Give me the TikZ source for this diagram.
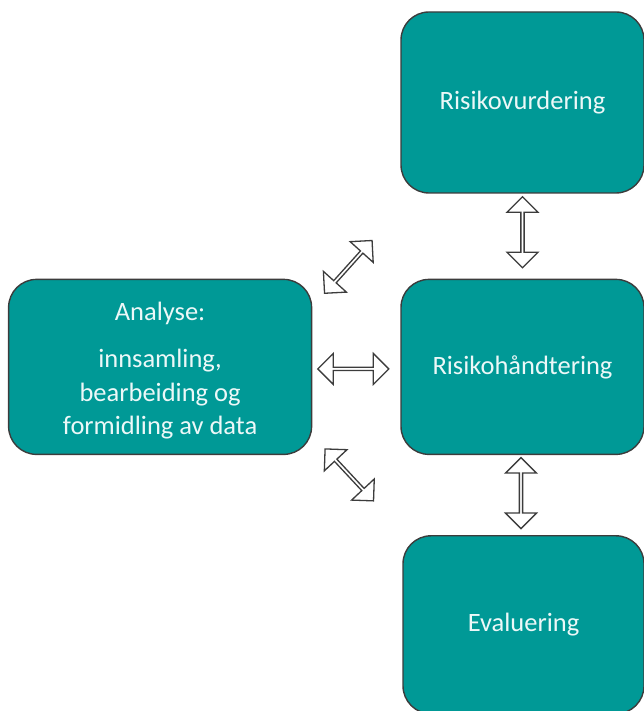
\documentclass[tikz,border=0pt]{standalone}
\usepackage{fontspec}
\setmainfont{Carlito}
\usetikzlibrary{calc,positioning,shapes.arrows}
\definecolor{tealfill}{RGB}{0,153,150}
\definecolor{edgegray}{RGB}{60,60,60}
\definecolor{lighttext}{RGB}{236,248,248}
\tikzset{%
	stage/.style    = {draw=edgegray, line width=1.4pt, fill=tealfill, rounded corners=28pt},
	stagetext/.style= {text=lighttext, align=center, font=\fontsize{26.5}{33.5}\selectfont},
	dblarrow/.style = {draw=edgegray, line width=1.3pt, fill=white, double arrow, minimum height=71pt, minimum width=31pt, double arrow head extend=5.5pt, inner sep=0pt},
}

\begin{document}
\begin{tikzpicture}[x=1pt,y=1pt]
	\useasboundingbox (0,0) rectangle (644,711);
	\node [stage,stagetext,minimum width=243pt,minimum height=181pt] (rv) at (522.5,608.5) {Risikovurdering};
	\node [stage,stagetext,minimum width=243pt,minimum height=175pt] (rh) [below=85pt of rv] {Risikohåndtering};
	\node [stage,stagetext,minimum width=241pt,minimum height=178pt] (ev) [below=80pt of rh,xshift=1pt] {Evaluering};
	\node [stage,minimum width=303pt,minimum height=175pt] (an) [left=88pt of rh] {};
	\node [stagetext] (antext) at ($(an.center)+(0,-4)$) {Analyse:\\[13.5pt] innsamling,\\ bearbeiding og\\ formidling av data};
	
	\node [dblarrow,rotate=90] (up) at ($(rv.south)!0.5!(rh.north)+(0,4)$) {};
	\node [dblarrow,rotate=90] (down) at ($(rh.south)!0.5!(ev.north)+(-2,2)$) {};
	\node [dblarrow] (mid) at ($(an.east)!0.5!(rh.west)+(-3,-2)$) {};
	\node [dblarrow,rotate=48] (diagup) at ($(an.east)!0.5!(rh.west)+(-8,100)$) {};
	\node [dblarrow,rotate=-47] (diagdown) at ($(an.east)!0.5!(rh.west)+(-7,-108)$) {};
\end{tikzpicture}
\end{document}
